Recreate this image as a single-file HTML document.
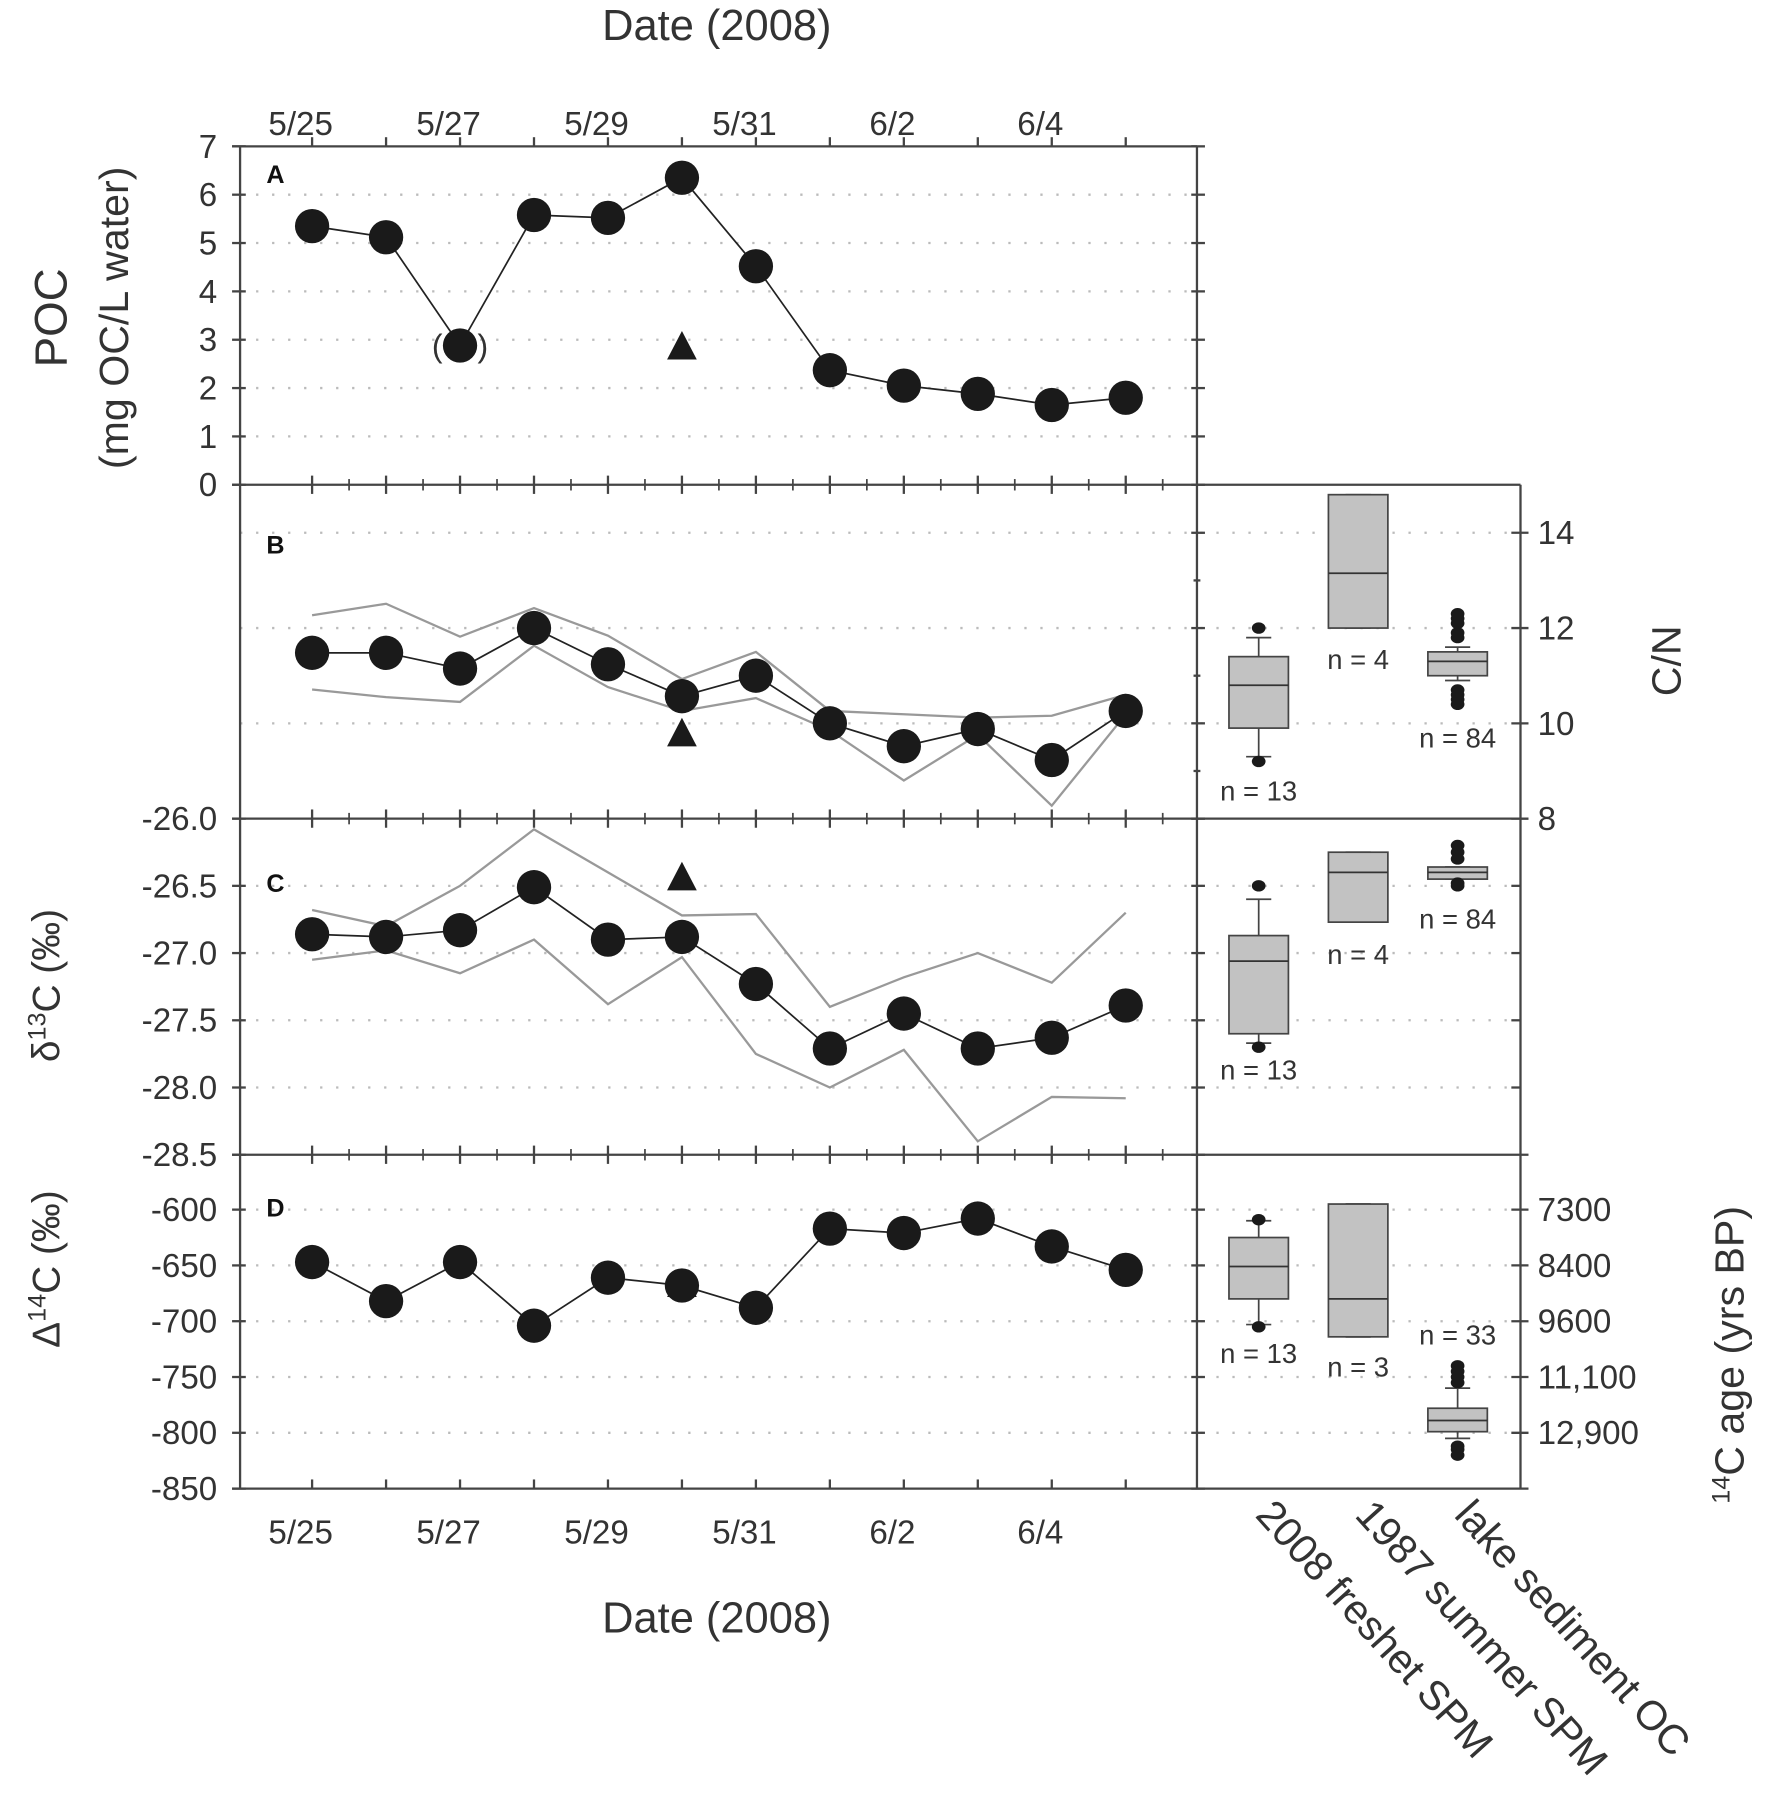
<!DOCTYPE html>
<html><head><meta charset="utf-8"><style>
html,body{margin:0;padding:0;background:#fff;}
svg{display:block;font-family:"Liberation Sans",sans-serif;}
</style></head><body>
<svg id="chart" width="1772" height="1795" viewBox="0 0 1550 1570" preserveAspectRatio="none" xmlns="http://www.w3.org/2000/svg">
<g id="root"></g>
</svg>
<script>
const days = ['5/25','5/26','5/27','5/28','5/29','5/30','5/31','6/1','6/2','6/3','6/4','6/5'];
const dateLabels = ['5/25','5/27','5/29','5/31','6/2','6/4'];
const pocValues = [5.35,5.12,2.88,5.58,5.52,6.35,4.52,2.37,2.05,1.88,1.65,1.8];
const pocTriangle = 2.85;
const cnValues = [11.48,11.48,11.15,12.0,11.24,10.57,11.0,10.0,9.52,9.88,9.23,10.26];
const cnUpper = [12.27,12.51,11.82,12.42,11.84,10.93,11.5,10.26,10.19,10.12,10.16,10.6];
const cnLower = [10.71,10.55,10.45,11.63,10.76,10.26,10.53,9.85,8.8,9.76,8.27,10.19];
const cnTriangle = 9.78;
const d13Values = [-26.86,-26.88,-26.83,-26.51,-26.9,-26.88,-27.23,-27.71,-27.45,-27.71,-27.63,-27.39];
const d13Upper = [-26.68,-26.8,-26.5,-26.08,-26.4,-26.72,-26.71,-27.4,-27.18,-27.0,-27.22,-26.7];
const d13Lower = [-27.05,-26.98,-27.15,-26.9,-27.38,-27.03,-27.75,-28.0,-27.72,-28.4,-28.07,-28.08];
const d13Triangle = -26.44;
const d14Values = [-647,-682,-647,-704,-661,-668,-688,-617,-621,-608,-633,-654];
const d14Triangle = -667;
const boxCategories = ['2008 freshet SPM','1987 summer SPM','lake sediment OC'];
// box stats: [wLow, q1, median, q3, wHigh]
const cnBoxes = [[9.3,9.9,10.8,11.4,11.8],[12.0,12.0,13.15,14.8,14.8],[10.9,11.0,11.3,11.5,11.6]];
const cnOutliers = [[9.2,12.0],[],[10.4,10.5,10.6,10.7,11.8,11.9,12.1,12.2,12.3]];
const cnN = ['n = 13','n = 4','n = 84'];
const d13Boxes = [[-27.67,-27.6,-27.06,-26.87,-26.6],[-26.77,-26.77,-26.4,-26.25,-26.25],[-26.45,-26.45,-26.4,-26.36,-26.36]];
const d13Outliers = [[-26.5,-27.7],[],[-26.2,-26.25,-26.3,-26.5,-26.48]];
const d13N = ['n = 13','n = 4','n = 84'];
const d14Boxes = [[-703,-680,-651,-625,-610],[-714,-714,-680,-595,-595],[-805,-799,-789,-778,-760]];
const d14Outliers = [[-609,-705],[],[-740,-745,-750,-755,-812,-815,-820]];
const d14N = ['n = 13','n = 3','n = 33'];
const pocTicks = [0,1,2,3,4,5,6,7];
const cnTicks = [8,10,12,14];
const d13Ticks = [-26.0,-26.5,-27.0,-27.5,-28.0,-28.5];
const d14Ticks = [-600,-650,-700,-750,-800,-850];
const ageTickLabels = ['7300','8400','9600','11,100','12,900'];
const ageTickValues = [-600,-650,-700,-750,-800];

const NS='http://www.w3.org/2000/svg';
const root=document.getElementById('root');
function mk(tag,attrs,parent){const e=document.createElementNS(NS,tag);for(const k in attrs)e.setAttribute(k,attrs[k]);(parent||root).appendChild(e);return e;}
const X0=210,X1=1047,R1=1330;
function x(i){return 273+i*64.7;}
function lin(v0,y0,v1,y1){return v=>y0+(v-v0)*(y1-y0)/(v1-v0);}
const yA=lin(0,424,7,128), yB=lin(8,716,14,466), yC=lin(-26,716,-28.5,1010), yD=lin(-600,1058,-850,1302);
const bx=[1101,1188,1275];

function txt(s,xx,yy,size,anchor,parent,name){const t=mk('text',{x:xx,y:yy,'font-size':size,'text-anchor':anchor||'middle',fill:'#333'},parent);t.textContent=s;

return t;}

function grid(ys,xa,xb){ys.forEach(y=>{const l=mk('line',{x1:xa,x2:xb,y1:y,y2:y,stroke:'#bbb','stroke-width':2,'stroke-dasharray':'2 12'});

});}

grid(pocTicks.slice(1,7).map(yA),X0,X1);
grid(cnTicks.slice(1).map(yB),X0,R1);
grid(d13Ticks.slice(1,5).map(yC),X0,R1);
grid(d14Ticks.slice(0,5).map(yD),X0,R1);

const fr=mk('g',{stroke:'#444','stroke-width':2,fill:'none'});


mk('line',{x1:203,x2:1047,y1:128,y2:128},fr);
mk('line',{x1:X0,x2:X0,y1:128,y2:1302},fr);
mk('line',{x1:X1,x2:X1,y1:128,y2:1302},fr);
mk('line',{x1:R1,x2:R1,y1:424,y2:1302},fr);
[424,716,1010,1302].forEach(y=>mk('line',{x1:203,x2:(y===424?R1:1337),y1:y,y2:y},fr));

const tk=mk('g',{stroke:'#444','stroke-width':2});


for(let i=-1;i<=12;i++){const xx=x(i);if(xx<X0||xx>X1)continue;
 [128,424,716,1010,1302].forEach(y=>mk('line',{x1:xx,x2:xx,y1:y-8,y2:y+(y===128||y===1302?0:8)},tk));
 const xm=x(i+0.5);if(xm<X1){[424,716,1010].forEach(y=>mk('line',{x1:xm,x2:xm,y1:y-5,y2:y+5,'stroke-width':1.5},tk));}
}
function yt(ys,xa,xb){ys.forEach(y=>mk('line',{x1:xa,x2:xb,y1:y,y2:y},tk));}
yt(pocTicks.map(yA),203,215); yt(pocTicks.map(yA),1042,1054);
yt(cnTicks.map(yB),1042,1054); yt(cnTicks.map(yB),1322,1337);
yt(d13Ticks.map(yC),203,215); yt(d13Ticks.map(yC),1042,1054); yt(d13Ticks.slice(1,5).map(yC),1322,1330);
yt(d14Ticks.map(yD),203,215); yt(d14Ticks.map(yD),1042,1054); yt(ageTickValues.map(yD),1322,1337);
yt([9,11,13].map(yB),1044,1050);

dateLabels.forEach((d,k)=>{txt(d,x(k*2)-10,118,29,'middle',null,'top-date-label');txt(d,x(k*2)-10,1350,29,'middle',null,'bottom-date-label');});
pocTicks.forEach(v=>txt(String(v),190,yA(v)+10,29,'end',null,'poc-tick-label'));
cnTicks.forEach(v=>txt(String(v),1345,yB(v)+10,29,'start',null,'cn-tick-label'));
d13Ticks.forEach(v=>txt(v.toFixed(1),190,yC(v)+10,29,'end',null,'d13c-tick-label'));
d14Ticks.forEach(v=>txt(String(v),190,yD(v)+10,29,'end',null,'d14c-tick-label'));
ageTickLabels.forEach((s,k)=>txt(s,1345,yD(ageTickValues[k])+10,29,'start',null,'age-tick-label'));

[['A',150],['B',474],['C',770],['D',1054]].forEach(p=>{const t=txt(p[0],233,p[1]+10,22,'start',null,'panel-letter');t.setAttribute('font-weight','bold');t.setAttribute('fill','#111');});

txt('Date (2008)',627,35,38,'middle',null,'top-x-axis-title');
txt('Date (2008)',627,1428,38,'middle',null,'bottom-x-axis-title');
function rot(s,xx,yy,size,name,deg){const t=txt(s,xx,yy,size,'middle',null,name);t.setAttribute('transform',`rotate(${deg||-90} ${xx} ${yy})`);return t;}
rot('POC',58,278,40,'poc-axis-title');
rot('(mg OC/L water)',112,278,36,'poc-axis-unit');
const t13=rot('',52,862,34,'d13c-axis-title');t13.innerHTML='δ<tspan dy="-12" font-size="22">13</tspan><tspan dy="12">C (‰)</tspan>';
const t14=rot('',52,1110,34,'d14c-axis-title');t14.innerHTML='Δ<tspan dy="-12" font-size="22">14</tspan><tspan dy="12">C (‰)</tspan>';
rot('C/N',1470,578,36,'cn-axis-title');
const ta=rot('',1525,1185,36,'age-axis-title');ta.innerHTML='<tspan dy="-12" font-size="22">14</tspan><tspan dy="12">C age (yrs BP)</tspan>';

function series(vals,yf,name){
 const pts=vals.map((v,i)=>x(i)+','+yf(v)).join(' ');
 const pl=mk('polyline',{points:pts,fill:'none',stroke:'#222','stroke-width':1.5});
 
 
 vals.forEach((v,i)=>{const c=mk('ellipse',{cx:x(i),cy:yf(v),rx:15,ry:15,fill:'#1a1a1a'});
 
 });
}
function band(vals,yf,name){const pl=mk('polyline',{points:vals.map((v,i)=>x(i)+','+yf(v)).join(' '),fill:'none',stroke:'#999','stroke-width':2});
 
 }
function tri(v,yf,name){const cx=x(5),cy=yf(v);const p=mk('polygon',{points:`${cx-13},${cy+11} ${cx+13},${cy+11} ${cx},${cy-14}`,fill:'#1a1a1a'});
 
 }

series(pocValues,yA,'poc');
tri(pocTriangle,yA,'poc-triangle');
txt('(',x(2)-20,yA(pocValues[2])+10,28,'middle',null,'paren-left');
txt(')',x(2)+20,yA(pocValues[2])+10,28,'middle',null,'paren-right');
band(cnUpper,yB,'cn-upper-band');band(cnLower,yB,'cn-lower-band');
series(cnValues,yB,'cn');tri(cnTriangle,yB,'cn-triangle');
band(d13Upper,yC,'d13c-upper-band');band(d13Lower,yC,'d13c-lower-band');
series(d13Values,yC,'d13c');tri(d13Triangle,yC,'d13c-triangle');
series(d14Values,yD,'d14c');tri(d14Triangle,yD,'d14c-triangle');

function boxes(stats,outs,ns,yf,name,nY){
 stats.forEach((s,k)=>{const cx=bx[k],w=26;const g=mk('g',{});
  
  
  mk('line',{x1:cx,x2:cx,y1:yf(s[0]),y2:yf(s[4]),stroke:'#444','stroke-width':1.5},g);
  mk('line',{x1:cx-11,x2:cx+11,y1:yf(s[0]),y2:yf(s[0]),stroke:'#444','stroke-width':1.5},g);
  mk('line',{x1:cx-11,x2:cx+11,y1:yf(s[4]),y2:yf(s[4]),stroke:'#444','stroke-width':1.5},g);
  mk('rect',{x:cx-w,y:yf(s[3]),width:2*w,height:yf(s[1])-yf(s[3]),fill:'#c2c2c2',stroke:'#444','stroke-width':1.5},g);
  mk('line',{x1:cx-w,x2:cx+w,y1:yf(s[2]),y2:yf(s[2]),stroke:'#333','stroke-width':1.5},g);
  outs[k].forEach(o=>mk('ellipse',{cx:cx,cy:yf(o),rx:6,ry:5,fill:'#1a1a1a'},g));
  txt(ns[k],cx,nY[k],24,'middle',null,name+'-n-label');
 });
}
boxes(cnBoxes,cnOutliers,cnN,yB,'cn',[700,585,654]);
boxes(d13Boxes,d13Outliers,d13N,yC,'d13c',[944,843,812]);
boxes(d14Boxes,d14Outliers,d14N,yD,'d14c',[1192,1204,1176]);

boxCategories.forEach((c,k)=>{const xx=bx[k]-4,yy=1326;const t=txt(c,xx,yy,36,'start',null,'category-label');t.setAttribute('transform',`rotate(48 ${xx} ${yy})`);});
</script>
</body></html>
